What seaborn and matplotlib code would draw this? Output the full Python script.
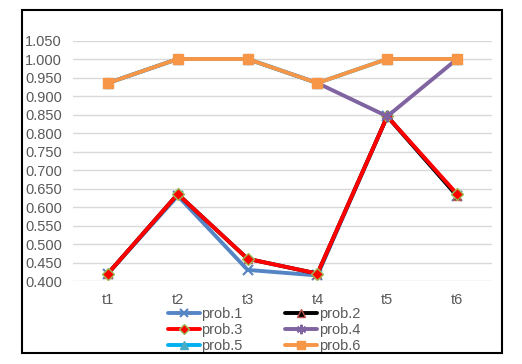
import matplotlib
matplotlib.use("Agg")
import matplotlib.pyplot as plt
import seaborn as sns
import pandas as pd
from matplotlib.patches import Rectangle
from matplotlib.ticker import FormatStrFormatter

times = ["t1", "t2", "t3", "t4", "t5", "t6"]
prob1 = [0.420, 0.630, 0.430, 0.415, 0.845, 0.630]
prob2 = [0.420, 0.635, 0.460, 0.420, 0.845, 0.630]
prob3 = [0.420, 0.635, 0.460, 0.420, 0.845, 0.635]
prob4 = [0.935, 1.000, 1.000, 0.935, 0.845, 1.000]
prob5 = [0.935, 1.000, 1.000, 0.935, 1.000, 1.000]
prob6 = [0.935, 1.000, 1.000, 0.935, 1.000, 1.000]
series_names = ["prob.1", "prob.2", "prob.3", "prob.4", "prob.5", "prob.6"]
series_vals = [prob1, prob2, prob3, prob4, prob5, prob6]
yticks = [0.400, 0.450, 0.500, 0.550, 0.600, 0.650, 0.700, 0.750,
          0.800, 0.850, 0.900, 0.950, 1.000, 1.050]

rows = []
for name, vals in zip(series_names, series_vals):
    for t, v in zip(times, vals):
        rows.append({"time": t, "value": v, "series": name})
df = pd.DataFrame(rows)

sns.set_style("white")
plt.rcParams["font.family"] = ["Liberation Sans", "DejaVu Sans"]

palette = {"prob.1": "#5585C5", "prob.2": "#000000", "prob.3": "#FF0000",
           "prob.4": "#8064A2", "prob.5": "#00B0F0", "prob.6": "#F79646"}
markers = {"prob.1": "x", "prob.2": "^", "prob.3": "D",
           "prob.4": (6, 2, 0), "prob.5": "^", "prob.6": "s"}
mfc = {"prob.1": "#5585C5", "prob.2": "#000000", "prob.3": "#FF0000",
       "prob.4": "#8064A2", "prob.5": "#4BACC6", "prob.6": "#F79646"}
mec = {"prob.1": "#5585C5", "prob.2": "#C0504D", "prob.3": "#9BBB59",
       "prob.4": "#8064A2", "prob.5": "#4BACC6", "prob.6": "#F79646"}
msize = {"prob.1": 7, "prob.2": 6, "prob.3": 6.5, "prob.4": 8, "prob.5": 6.5, "prob.6": 6.5}

fig = plt.figure(figsize=(5.22, 3.64), dpi=100)
ax = fig.add_axes([73/522, 1-281/364, 419/522, 240.5/364])

sns.lineplot(data=df, x="time", y="value", hue="series",
             palette=palette, linewidth=2.8,
             ax=ax, sort=False, legend=False)

handles = []
for line, name in zip(ax.get_lines(), series_names):
    line.set_marker(markers[name])
    line.set_markerfacecolor(mfc[name])
    line.set_markeredgecolor(mec[name])
    line.set_markersize(msize[name])
    line.set_markeredgewidth(1.5 if name in ("prob.1", "prob.4") else 1)
    line.set_label(name)
    handles.append(line)

ax.set_xlim(-0.5, 5.5)
ax.set_ylim(0.4, 1.05)
ax.set_yticks(yticks)
ax.yaxis.set_major_formatter(FormatStrFormatter("%.3f"))
ax.grid(axis="y", color="#D9D9D9", linewidth=1)
ax.set_axisbelow(True)
for s in ax.spines.values():
    s.set_visible(False)
ax.tick_params(axis="both", length=0, labelsize=10.5, colors="#595959", pad=8)
ax.tick_params(axis="x", pad=9)
ax.set_xlabel("")
ax.set_ylabel("")

order = [0, 2, 4, 1, 3, 5]
leg = ax.legend([handles[i] for i in order], [series_names[i] for i in order],
                ncol=2, loc="upper center", bbox_to_anchor=(0.456, -0.078),
                frameon=False, fontsize=10.5, handlelength=2.2, handletextpad=0.1,
                labelspacing=0.12, columnspacing=2.9, borderpad=0,
                markerscale=0.85, handleheight=0.6)
for t in leg.get_texts():
    t.set_color("#595959")

fig.patches.append(Rectangle((22/522, 1-353/364), 480/522, 343/364,
                             transform=fig.transFigure, fill=False,
                             edgecolor="black", linewidth=1.5))

fig.savefig("out.png", dpi=100)
